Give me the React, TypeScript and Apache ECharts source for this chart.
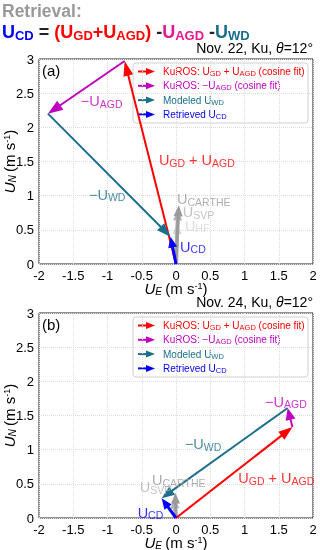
import React, { useEffect, useRef } from "react";
import * as echarts from "echarts";

const FONT = '"Liberation Sans", Arial, Helvetica, sans-serif';
const RED = "#ff0000";
const MAG = "#bf00bf";
const PINK = "#e6198c";
const TEAL = "#1a6f8d";
const BLUE = "#0000ff";
const G1 = "#9a9a9a";
const G2 = "#b4b4b4";
const G3 = "#d4d4d4";

// axis ticks
const X_MIN = -2, X_MAX = 2, Y_MIN = 0, Y_MAX = 3, STEP = 0.5;

// Panel (a) Nov. 22 vectors [x0, y0, x1, y1]
const aGdAgd = [0, 0, -0.75, 2.97];
const aNegAgd = [-0.75, 2.97, -1.87, 2.2];
const aNegWd = [-1.87, 2.2, -0.08, 0.4];
const aCd = [0, 0, -0.08, 0.4];
const aCarthe = [0, 0, 0.04, 0.86];
const aSvp = [0, 0, 0.03, 0.8];
const aHf = [0, 0, 0.02, 0.6];

// Panel (b) Nov. 24 vectors
const bGdAgd = [0, 0, 1.7, 1.33];
const bNegAgd = [1.7, 1.33, 1.63, 1.61];
const bNegWd = [1.63, 1.61, -0.21, 0.29];
const bCd = [0, 0, -0.21, 0.29];
const bCarthe = [0, 0, -0.01, 0.37];
const bSvp = [0, 0, -0.03, 0.3];

// annotation labels [x, y, text, color]
const aLabels: [number, number, string, string][] = [
  [-1.39, 2.38, "−U{s|AGD}", MAG],
  [-0.25, 1.52, "U{s|GD} + U{s|AGD}", RED],
  [-1.27, 1.01, "−U{s|WD}", TEAL],
  [0.015, 0.95, "U{s|CARTHE}", G1],
  [0.1, 0.76, "U{s|SVP}", G2],
  [0.13, 0.56, "U{s|HF}", G3],
  [0.06, 0.25, "U{s|CD}", BLUE],
];
const bLabels: [number, number, string, string][] = [
  [1.3, 1.7, "−U{s|AGD}", MAG],
  [0.13, 1.08, "−U{s|WD}", TEAL],
  [0.91, 0.58, "U{s|GD} + U{s|AGD}", RED],
  [-0.35, 0.55, "U{s|CARTHE}", G1],
  [-0.53, 0.45, "U{s|SVP}", G2],
  [-0.56, 0.08, "U{s|CD}", BLUE],
];

const legendItems: [string, string][] = [
  ["KuROS: U{s|GD} + U{s|AGD} (cosine fit)", RED],
  ["KuROS: −U{s|AGD} (cosine fit)", MAG],
  ["Modeled U{s|WD}", TEAL],
  ["Retrieved U{s|CD}", BLUE],
];

function arrowSeries(gi: number, vec: number[], color: string, lw: number, hl: number, hw: number, z: number) {
  return {
    type: "custom",
    xAxisIndex: gi,
    yAxisIndex: gi,
    z,
    silent: true,
    clip: false,
    encode: { x: [0, 2], y: [1, 3] },
    data: [vec],
    renderItem: (params: any, api: any) => {
      const p0 = api.coord([api.value(0), api.value(1)]);
      const p1 = api.coord([api.value(2), api.value(3)]);
      const dx = p1[0] - p0[0];
      const dy = p1[1] - p0[1];
      const len = Math.sqrt(dx * dx + dy * dy) || 1;
      const ux = dx / len, uy = dy / len;
      const px = -uy, py = ux;
      const bx = p1[0] - ux * hl, by = p1[1] - uy * hl;
      return {
        type: "group",
        children: [
          {
            type: "line",
            shape: { x1: p0[0], y1: p0[1], x2: p1[0] - ux * hl * 0.7, y2: p1[1] - uy * hl * 0.7 },
            style: { stroke: color, lineWidth: lw },
          },
          {
            type: "polygon",
            shape: {
              points: [
                [p1[0], p1[1]],
                [bx + px * hw / 2, by + py * hw / 2],
                [bx - px * hw / 2, by - py * hw / 2],
              ],
            },
            style: { fill: color },
          },
        ],
      };
    },
  };
}

function richify(t: string) {
  return "{n|" + t.replace(/\{s\|([^}]*)\}/g, "}{s|$1}{n|") + "}";
}

function labelSeries(gi: number, labels: [number, number, string, string][]) {
  return {
    type: "scatter",
    xAxisIndex: gi,
    yAxisIndex: gi,
    symbolSize: 0,
    silent: true,
    z: 10,
    data: labels.map((l) => ({
      value: [l[0], l[1]],
      label: {
        show: true,
        position: "right",
        distance: 0,
        formatter: richify(l[2]),
        rich: {
          n: { fontSize: 14.5, color: l[3], fontFamily: FONT, lineHeight: 16 },
          s: { fontSize: 10.5, color: l[3], fontFamily: FONT, lineHeight: 10, verticalAlign: "bottom" },
        },
      },
    })),
  };
}

function legendGraphic(top: number) {
  const children: any[] = [
    {
      type: "rect",
      shape: { x: 0, y: 0, width: 175, height: 60, r: 3 },
      style: { fill: "rgba(255,255,255,0.9)", stroke: "#d0d0d0", lineWidth: 1 },
    },
  ];
  legendItems.forEach((it, i) => {
    const y = 8.5 + i * 14.3;
    children.push({
      type: "line",
      shape: { x1: 5, y1: y, x2: 15, y2: y },
      style: { stroke: it[1], lineWidth: 2 },
    });
    children.push({
      type: "polygon",
      shape: { points: [[22, y], [13, y - 3.5], [13, y + 3.5]] },
      style: { fill: it[1] },
    });
    children.push({
      type: "text",
      x: 30,
      y: y,
      style: {
        text: richify(it[0]),
        verticalAlign: "middle",
        align: "left",
        rich: {
          n: { fontSize: 10, fill: it[1], fontFamily: FONT, lineHeight: 12 },
          s: { fontSize: 7.5, fill: it[1], fontFamily: FONT, lineHeight: 7, verticalAlign: "bottom" },
        },
      },
    });
  });
  return { type: "group", x: 133, y: top, children };
}

function makeAxes(gi: number) {
  const lab = { color: "#000", fontSize: 13, fontFamily: FONT, lineHeight: 13 };
  const nameRich = {
    i: { fontSize: 15, fontStyle: "italic", fontFamily: FONT, color: "#000", lineHeight: 15 },
    is: { fontSize: 10, fontStyle: "italic", fontFamily: FONT, color: "#000", lineHeight: 9, verticalAlign: "bottom" },
    n: { fontSize: 15, fontFamily: FONT, color: "#000", lineHeight: 15 },
    sup: { fontSize: 9, fontFamily: FONT, color: "#000", lineHeight: 9, verticalAlign: "top" },
  };
  const split = { show: true, lineStyle: { color: "#dcdcdc", type: "dotted" } };
  return {
    x: {
      gridIndex: gi,
      type: "value",
      min: X_MIN,
      max: X_MAX,
      interval: STEP,
      axisLine: { show: false },
      axisTick: { show: false },
      splitLine: split,
      axisLabel: { ...lab, margin: 5 },
      name: "{i|U}{is|E} {n|(m s}{sup|-1}{n|)}",
      nameLocation: "middle",
      nameGap: 17,
      nameMoveOverlap: false,
      nameTextStyle: { rich: nameRich },
    },
    y: {
      gridIndex: gi,
      type: "value",
      min: Y_MIN,
      max: Y_MAX,
      interval: STEP,
      axisLine: { show: false },
      axisTick: { show: false },
      splitLine: split,
      axisLabel: { ...lab, margin: 5 },
      name: "{i|U}{is|N} {n|(m s}{sup|-1}{n|)}",
      nameLocation: "middle",
      nameRotate: 90,
      nameGap: 22,
      nameMoveOverlap: false,
      nameTextStyle: { rich: nameRich },
    },
  };
}

export default function App() {
  const ref = useRef<HTMLDivElement>(null);
  useEffect(() => {
    if (!ref.current) return;
    const chart = echarts.init(ref.current, undefined, { renderer: "svg" });
    const ax0 = makeAxes(0);
    const ax1 = makeAxes(1);
    const gridBase = {
      left: 39,
      width: 274,
      height: 205,
      show: true,
      borderColor: "#222",
      borderWidth: 1,
      backgroundColor: "transparent",
      containLabel: false,
      outerBoundsMode: "none",
    };
    const dateRich = {
      n: { fontSize: 14, fontFamily: FONT, fill: "#000", lineHeight: 15 },
      it: { fontSize: 14, fontFamily: FONT, fontStyle: "italic", fill: "#000", lineHeight: 15 },
    };
    chart.setOption({
      animation: false,
      grid: [
        { ...gridBase, top: 59 },
        { ...gridBase, top: 313 },
      ],
      xAxis: [ax0.x, ax1.x],
      yAxis: [ax0.y, ax1.y],
      series: [
        arrowSeries(0, aHf, G3, 4, 11, 9, 2),
        arrowSeries(0, aSvp, G2, 4, 11, 9, 2),
        arrowSeries(0, aCarthe, G1, 3, 11, 9, 2),
        arrowSeries(0, aGdAgd, RED, 2, 15, 10, 3),
        arrowSeries(0, aNegAgd, MAG, 2, 15, 11, 3),
        arrowSeries(0, aNegWd, TEAL, 2, 14, 10, 3),
        arrowSeries(0, aCd, BLUE, 3, 11, 9, 4),
        labelSeries(0, aLabels),
        arrowSeries(1, bSvp, G2, 4, 11, 9, 2),
        arrowSeries(1, bCarthe, G1, 3, 11, 9, 2),
        arrowSeries(1, bGdAgd, RED, 2, 14, 10, 3),
        arrowSeries(1, bNegAgd, MAG, 2, 12, 10, 3),
        arrowSeries(1, bNegWd, TEAL, 2, 13, 10, 3),
        arrowSeries(1, bCd, BLUE, 3, 11, 9, 4),
        labelSeries(1, bLabels),
      ],
      graphic: [
        {
          type: "text",
          left: 2,
          top: 2,
          style: { text: "Retrieval:", fontSize: 17.5, fontWeight: "bold", fontFamily: FONT, fill: "#999" },
        },
        {
          type: "text",
          left: 2,
          top: 23,
          style: {
            text:
              "{b|U}{bs|CD}{k| = }{r|(U}{rs|GD}{r|+U}{rs|AGD}{r|)}{k| -}{p|U}{ps|AGD}{k| -}{t|U}{ts|WD}",
            rich: {
              b: { fontSize: 18, fontWeight: "bold", fontFamily: FONT, fill: BLUE, lineHeight: 20 },
              bs: { fontSize: 13, fontWeight: "bold", fontFamily: FONT, fill: BLUE, lineHeight: 11, verticalAlign: "bottom" },
              k: { fontSize: 18, fontWeight: "bold", fontFamily: FONT, fill: "#222", lineHeight: 20 },
              r: { fontSize: 18, fontWeight: "bold", fontFamily: FONT, fill: RED, lineHeight: 20 },
              rs: { fontSize: 13, fontWeight: "bold", fontFamily: FONT, fill: RED, lineHeight: 11, verticalAlign: "bottom" },
              p: { fontSize: 18, fontWeight: "bold", fontFamily: FONT, fill: PINK, lineHeight: 20 },
              ps: { fontSize: 13, fontWeight: "bold", fontFamily: FONT, fill: PINK, lineHeight: 11, verticalAlign: "bottom" },
              t: { fontSize: 18, fontWeight: "bold", fontFamily: FONT, fill: TEAL, lineHeight: 20 },
              ts: { fontSize: 13, fontWeight: "bold", fontFamily: FONT, fill: TEAL, lineHeight: 11, verticalAlign: "bottom" },
            },
          },
        },
        {
          type: "text",
          x: 313,
          y: 48,
          style: { text: "{n|Nov. 22, Ku, }{it|θ}{n|=12°}", align: "right", verticalAlign: "middle", rich: dateRich },
        },
        {
          type: "text",
          x: 313,
          y: 302,
          style: { text: "{n|Nov. 24, Ku, }{it|θ}{n|=12°}", align: "right", verticalAlign: "middle", rich: dateRich },
        },
        {
          type: "text",
          x: 42,
          y: 70,
          style: { text: "(a)", fontSize: 15, fontFamily: FONT, fill: "#000", verticalAlign: "middle" },
        },
        {
          type: "text",
          x: 42,
          y: 324,
          style: { text: "(b)", fontSize: 15, fontFamily: FONT, fill: "#000", verticalAlign: "middle" },
        },
        legendGraphic(63),
        legendGraphic(317),
      ],
    });
    return () => chart.dispose();
  }, []);
  return <div ref={ref} style={{ position: "fixed", left: 0, top: 0, width: 320, height: 550 }} />;
}
